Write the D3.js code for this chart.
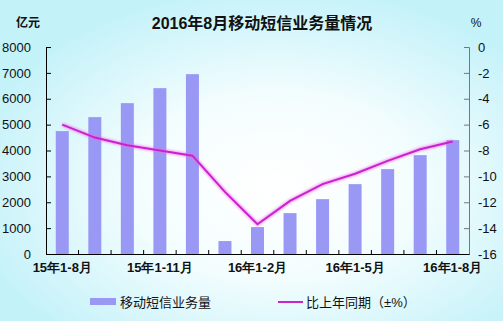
<!DOCTYPE html>
<html>
<head>
<meta charset="utf-8">
<script src="https://cdn.jsdelivr.net/npm/d3@7"></script>
<style>
  body { margin: 0; }
  svg { display: block; font-family: Arial, "Liberation Sans", "Noto Sans CJK SC", sans-serif; }
</style>
</head>
<body>
<div id="chart"></div>
<script>
const categories = ['15年1-8月', '15年1-9月', '15年1-10月', '15年1-11月', '15年1-12月', '16年1月', '16年1-2月',
  '16年1-3月', '16年1-4月', '16年1-5月', '16年1-6月', '16年1-7月', '16年1-8月']
const volume = [4750, 5290, 5830, 6410, 6950, 500, 1040, 1580, 2120, 2700, 3280, 3820, 4400]
const growth = [-6.0, -7.0, -7.6, -8.0, -8.4, -11.2, -13.7, -11.9, -10.6, -9.8, -8.8, -7.9, -7.3]
const leftTicks = [0, 1000, 2000, 3000, 4000, 5000, 6000, 7000, 8000]
const rightTicks = [0, -2, -4, -6, -8, -10, -12, -14, -16]
const shownLabels = ['15年1-8月', '15年1-11月', '16年1-2月', '16年1-5月', '16年1-8月']

const width = 503
const height = 321
const m = { left: 46, right: 34, top: 47, bottom: 67 }

const svg = d3.select('#chart').append('svg')
  .attr('width', width)
  .attr('height', height)

const defs = svg.append('defs')
const bg = defs.append('radialGradient')
  .attr('id', 'bg')
  .attr('cx', '55%').attr('cy', '58%').attr('r', '62%')
  .attr('fx', '55%').attr('fy', '58%')
bg.append('stop').attr('offset', '0%').attr('stop-color', '#ffffff')
bg.append('stop').attr('offset', '45%').attr('stop-color', '#f4fdfe')
bg.append('stop').attr('offset', '100%').attr('stop-color', '#c4f2f9')

const glow = defs.append('filter').attr('id', 'glow')
  .attr('x', '-10%').attr('y', '-10%').attr('width', '120%').attr('height', '120%')
glow.append('feGaussianBlur').attr('stdDeviation', 1.2)

svg.append('rect')
  .attr('width', width).attr('height', height)
  .attr('fill', 'url(#bg)')

const x = d3.scaleBand()
  .domain(categories)
  .range([m.left, width - m.right])

const yL = d3.scaleLinear()
  .domain([0, 8000])
  .range([height - m.bottom, m.top])

const yR = d3.scaleLinear()
  .domain([-16, 0])
  .range([height - m.bottom, m.top])

// bars
const barW = 13
svg.selectAll('rect.bar')
  .data(volume)
  .enter()
  .append('rect')
  .attr('class', 'bar')
  .attr('x', (d, i) => x(categories[i]) + x.bandwidth() / 2 - barW / 2)
  .attr('y', d => yL(d))
  .attr('width', barW)
  .attr('height', d => yL(0) - yL(d))
  .attr('fill', '#9999f5')

// line
const line = d3.line()
  .x((d, i) => x(categories[i]) + x.bandwidth() / 2)
  .y(d => yR(d))

svg.append('path')
  .datum(growth)
  .attr('d', line)
  .attr('fill', 'none')
  .attr('stroke', '#ee66ee')
  .attr('stroke-width', 4)
  .attr('opacity', 0.6)
  .attr('filter', 'url(#glow)')

svg.append('path')
  .datum(growth)
  .attr('d', line)
  .attr('fill', 'none')
  .attr('stroke', '#cc22cc')
  .attr('stroke-width', 2)

// left axis
const leftAxis = d3.axisLeft(yL)
  .tickValues(leftTicks)
  .tickSize(-5)
  .tickPadding(15)
  .tickFormat(d => String(d))

const gl = svg.append('g')
  .attr('transform', `translate(${m.left}, 0)`)
  .call(leftAxis)
gl.select('.domain').attr('stroke', '#000')
gl.selectAll('.tick line').attr('stroke', '#000')
gl.selectAll('text').attr('font-size', 13).attr('fill', '#111')

// right axis
const rightAxis = d3.axisRight(yR)
  .tickValues(rightTicks)
  .tickSize(-5)
  .tickPadding(9)
  .tickFormat(d => String(d))

const gr = svg.append('g')
  .attr('transform', `translate(${width - m.right}, 0)`)
  .call(rightAxis)
gr.select('.domain').attr('stroke', '#777')
gr.selectAll('.tick line').attr('stroke', '#777')
gr.selectAll('text').attr('font-size', 13).attr('fill', '#111')

// bottom axis
const bottomAxis = d3.axisBottom(x)
  .tickSize(0)
  .tickPadding(9)
  .tickFormat(d => shownLabels.includes(d) ? d : '')

const gb = svg.append('g')
  .attr('transform', `translate(0, ${height - m.bottom})`)
  .call(bottomAxis)
gb.select('.domain').attr('stroke', '#000')
gb.selectAll('text')
  .attr('font-size', 13)
  .attr('font-weight', 'bold')
  .attr('fill', '#111')

// band boundary ticks, pointing up
gb.selectAll('line.sep')
  .data(categories.slice(1))
  .enter()
  .append('line')
  .attr('class', 'sep')
  .attr('x1', d => x(d))
  .attr('x2', d => x(d))
  .attr('y1', 0)
  .attr('y2', -4)
  .attr('stroke', '#000')

// titles
svg.append('text')
  .attr('x', 262).attr('y', 29)
  .attr('text-anchor', 'middle')
  .attr('font-size', 16)
  .attr('font-weight', 'bold')
  .attr('fill', '#111')
  .text('2016年8月移动短信业务量情况')

svg.append('text')
  .attr('x', 28).attr('y', 27)
  .attr('text-anchor', 'middle')
  .attr('font-size', 12)
  .attr('font-weight', 'bold')
  .attr('fill', '#111')
  .text('亿元')

svg.append('text')
  .attr('x', 476).attr('y', 27)
  .attr('text-anchor', 'middle')
  .attr('font-size', 12)
  .attr('fill', '#111')
  .text('%')

// legend
const legend = svg.append('g')
legend.append('rect')
  .attr('x', 90).attr('y', 298)
  .attr('width', 26).attr('height', 7)
  .attr('fill', '#9999f5')
legend.append('text')
  .attr('x', 120).attr('y', 307)
  .attr('font-size', 13)
  .attr('fill', '#111')
  .text('移动短信业务量')
legend.append('line')
  .attr('x1', 278).attr('x2', 303)
  .attr('y1', 302).attr('y2', 302)
  .attr('stroke', '#cc22cc')
  .attr('stroke-width', 2)
legend.append('text')
  .attr('x', 306).attr('y', 307)
  .attr('font-size', 13)
  .attr('fill', '#111')
  .text('比上年同期（±%）')
</script>
</body>
</html>
